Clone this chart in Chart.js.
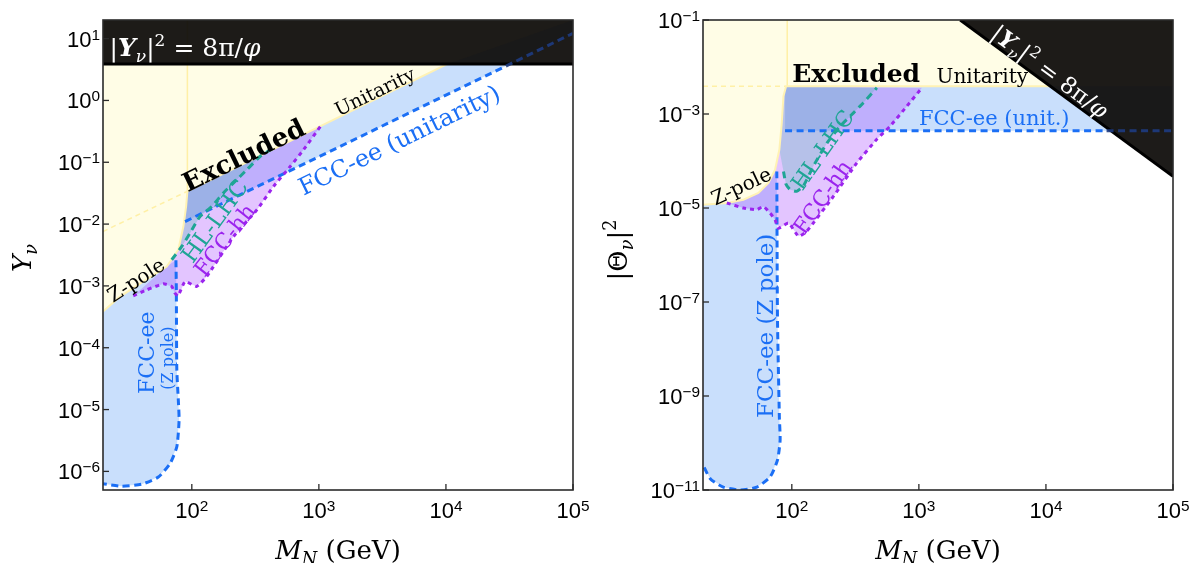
<!DOCTYPE html>
<html>
<head>
<meta charset="utf-8">
<script src="https://cdn.jsdelivr.net/npm/chart.js@4.4.1/dist/chart.umd.min.js"></script>
<style>
  html, body { margin: 0; padding: 0; background: #fff; }
  #wrap { position: relative; width: 1199px; height: 563px; }
  canvas { position: absolute; top: 0; }
</style>
</head>
<body>
<div id="wrap">
  <canvas id="left" width="600" height="563" style="left:0"></canvas>
  <canvas id="right" width="599" height="563" style="left:600px"></canvas>
</div>
<script>
// axis ranges and tick labels (exponents of 10)
const xRange = [20, 1e5];
const yRangeL = [5e-7, 20];
const yRangeR = [1e-11, 0.1];
const xTickExp = [2, 3, 4, 5];
const yTickExpL = [1, 0, -1, -2, -3, -4, -5, -6];
const yTickExpR = [-1, -3, -5, -7, -9, -11];

// ---- left panel: Y_nu vs M_N ----
const zpoleM_L = [20, 27.2, 63.5, 78.3, 85.9, 90.2, 92.3];
const zpoleY_L = [3.85e-4, 6.7e-4, 2.06e-3, 3.85e-3, 9.2e-3, 0.0194, 0.0339];
const unitM_L = [92.3, 10300];          // unitarity bound
const unitY_L = [0.0339, 3.9];
const bandY_L = 3.9;                    // |Y|^2 = 8pi/phi
const zdashM_L = [75, 75.5, 76.2, 78.3, 79.4, 76.2, 67.4, 54.5, 40.3, 28, 20];
const zdashY_L = [2.6e-3, 1e-3, 4.4e-5, 1.43e-5, 6.76e-6, 2.5e-6, 1.34e-6, 8.1e-7, 6.2e-7, 5.75e-7, 6.3e-7];
const udashM_L = [88.5, 29700, 1e5];    // FCC-ee (unitarity)
const udashY_L = [0.011, 3.6, 12.2];
const hhM_L = [34.6, 44.2, 59.7, 69.5, 73.8, 78, 88.5, 109, 131, 213, 326, 440, 597, 760, 1030];
const hhY_L = [6.9e-4, 8.65e-4, 1.08e-3, 9.8e-4, 7.6e-4, 6.9e-4, 1.18e-3, 9.8e-4, 1.42e-3, 6.3e-3, 0.0171, 0.0408, 0.086, 0.161, 0.383];
const hlM_L = [69.5, 83.4, 97, 116, 144, 177, 213, 272, 346, 440];
const hlY_L = [2.65e-3, 4.35e-3, 7.2e-3, 0.0133, 0.0194, 0.0319, 0.0464, 0.0762, 0.125, 0.171];

// ---- right panel: |Theta|^2 vs M_N ----
const zpoleM_R = [20, 30.8, 41.6, 54.6, 65.5, 73.8, 79.8, 83.4, 85.9, 90.2];
const zpoleT_R = [1.17e-5, 1.28e-5, 1.5e-5, 2.09e-5, 3.4e-5, 6.5e-5, 1.75e-4, 6.5e-4, 2.4e-3, 3.9e-3];
const unitM_R = [90.2, 11000];
const unitT_R = [3.9e-3, 3.9e-3];
const blackM_R = [2115, 1e5];
const blackT_R = [0.1, 4.7e-5];
const zdashM_R = [76.2, 77.1, 79.8, 80.9, 77.1, 67.5, 53, 39.2, 28.9, 22.8, 20];
const zdashT_R = [6e-5, 4.9e-8, 3.6e-10, 1.15e-10, 4.3e-11, 1.9e-11, 1.15e-11, 1e-11, 1.15e-11, 1.74e-11, 3.4e-11];
const udashM_R = [88.5, 30000, 1e5];
const udashT_R = [4.4e-4, 4.4e-4, 4.4e-4];
const hhM_R = [30.8, 41.6, 53, 59.7, 67.5, 73.8, 78.4, 94, 113, 131, 213, 325, 467, 594, 805, 1057];
const hhT_R = [1.28e-5, 1.0e-5, 9.2e-6, 1.08e-5, 7.8e-6, 5.6e-6, 3.7e-6, 4.8e-6, 2.5e-6, 3.2e-6, 1.78e-5, 9.1e-5, 2.9e-4, 5.5e-4, 1.47e-3, 3.6e-3];
const hlM_R = [86, 90, 97, 109, 123, 148, 189, 240, 306, 366, 467];
const hlT_R = [6e-5, 3.2e-5, 2.46e-5, 2.26e-5, 2.9e-5, 7.8e-5, 2.4e-4, 5.5e-4, 1.06e-3, 1.74e-3, 3.6e-3];

// colours
const YELLOW = '#FFFDE6', YEDGE = 'rgb(255,242,180)';
const BLUE_FILL = 'rgb(201,223,252)', BLUE = '#1B6FF5';
const PURPLE_FILL = 'rgba(170,80,255,0.33)', PURPLE = '#9B24EE';
const HL_FILL = 'rgba(76,182,183,0.3)', TEAL = '#1FA595';
const BLACK_FILL = 'rgba(12,10,8,0.93)';
const serif = '"DejaVu Serif", serif';
const sans = '"Liberation Sans", Arial, sans-serif';

const P = (ms, vs) => ms.map((m, i) => ({ x: m, y: vs[i] }));
const rev = a => a.slice().reverse();

function area(data, color) {
  return { data, backgroundColor: color, borderColor: 'transparent', borderWidth: 0, fill: 'shape', pointRadius: 0, tension: 0 };
}
function stroke(data, color, width, dash, tension) {
  return { data, borderColor: color, borderWidth: width, borderDash: dash || [], fill: false, pointRadius: 0, tension: tension || 0 };
}

// left panel layers, bottom to top
const zL = P(zpoleM_L, zpoleY_L);
const leftSets = [
  area([...zL, { x: unitM_L[1], y: unitY_L[1] }, { x: 1e5, y: 20 }, { x: 20, y: 20 }], YELLOW),
  area([...zL.filter(p => p.x < 70), ...P(zdashM_L, zdashY_L)], BLUE_FILL),
  area([...P(udashM_L, udashY_L), { x: 1e5, y: 20 }, ...rev(P(unitM_L, unitY_L)), ...rev(zL.filter(p => p.x > 88 && p.x < 92))], BLUE_FILL),
  area([...P(hhM_L, hhY_L), ...rev(P(unitM_L, unitY_L)).slice(1), ...rev(zL.filter(p => p.x > 30))], PURPLE_FILL),
  area([...P(hlM_L, hlY_L), ...rev(zL.filter(p => p.x > 75))], HL_FILL),
  stroke(P([20, 92.3], [7.6e-3, 0.0339]), 'rgba(255,236,150,0.8)', 1.5, [5, 4]),
  stroke(P([92.3, 92.3], [0.0339, 20]), 'rgba(255,236,150,0.8)', 1.5),
  stroke([...zL, { x: unitM_L[1], y: unitY_L[1] }], YEDGE, 2),
  stroke(P(zdashM_L, zdashY_L), BLUE, 3, [7, 4.5], 0.2),
  stroke(P(udashM_L.slice(0, 2), udashY_L.slice(0, 2)), BLUE, 3, [7, 4.5]),
  stroke(P(hhM_L, hhY_L), PURPLE, 3, [4, 4], 0.15),
  stroke(P(hlM_L, hlY_L), TEAL, 3, [7, 5], 0.15),
  area(P([20, 1e5, 1e5, 20], [bandY_L, bandY_L, 20, 20]), BLACK_FILL),
  stroke(P([20, 1e5], [bandY_L, bandY_L]), '#000', 3),
  stroke(P(udashM_L.slice(1), udashY_L.slice(1)), 'rgba(30,60,130,0.9)', 3, [7, 4.5])
];

// right panel layers, bottom to top
const zR = P(zpoleM_R, zpoleT_R);
const uR = P(unitM_R, unitT_R);
const rightSets = [
  area([...zR, uR[1], { x: 1e5, y: 3.9e-3 }, { x: 1e5, y: 0.1 }, { x: 20, y: 0.1 }], YELLOW),
  area([{ x: 20, y: zdashT_R[10] }, ...zR.filter(p => p.x < 75), ...P(zdashM_R, zdashT_R)], BLUE_FILL),
  area([...P(udashM_R, udashT_R), { x: 1e5, y: 3.9e-3 }, { x: 88.5, y: 3.9e-3 }], BLUE_FILL),
  area([...P(hhM_R, hhT_R), ...rev(zR.filter(p => p.x > 35))], PURPLE_FILL),
  area([...P(hlM_R, hlT_R), ...rev(zR.filter(p => p.x > 79))], HL_FILL),
  stroke(P([20, 90.2], [3.9e-3, 3.9e-3]), 'rgba(255,236,150,0.8)', 1.5, [5, 4]),
  stroke(P([92, 92], [3.9e-3, 0.1]), 'rgba(255,236,150,0.8)', 1.5),
  stroke([...zR, uR[1]], YEDGE, 2),
  stroke(P(zdashM_R, zdashT_R), BLUE, 3, [7, 4.5], 0.2),
  stroke(P(udashM_R.slice(0, 2), udashT_R.slice(0, 2)), BLUE, 3, [7, 4.5]),
  stroke(P(hhM_R, hhT_R), PURPLE, 3, [4, 4], 0.15),
  stroke(P(hlM_R, hlT_R), TEAL, 3, [7, 5], 0.15),
  area([...P(blackM_R, blackT_R), { x: 1e5, y: 0.1 }], BLACK_FILL),
  stroke(P(blackM_R, blackT_R), '#000', 3),
  stroke(P(udashM_R.slice(1), udashT_R.slice(1)), 'rgba(30,60,130,0.9)', 3, [7, 4.5])
];

// text runs
const mathBound = [{ t: '|' }, { t: 'Y', i: 1, b: 1 }, { t: 'ν', i: 1, sub: 1 }, { t: '|' }, { t: '2', sup: 1 }, { t: ' = 8π/' }, { t: 'φ', i: 1 }];
const T = s => [{ t: s }];

const decor = {
  left: {
    yExp: yTickExpL,
    yTitle: { runs: [{ t: 'Y', i: 1 }, { t: 'ν', i: 1, sub: 1 }], x: 22, y: 258 },
    labels: [
      { runs: mathBound, m: 88.5, v: 7.2, size: 25, color: '#fff' },
      { runs: T('Excluded'), m: 254, v: 0.133, rot: -26, size: 26, bold: 1 },
      { runs: T('Unitarity'), m: 2750, v: 1.4, rot: -26, size: 19 },
      { runs: T('FCC-ee (unitarity)'), m: 4270, v: 0.233, rot: -26, size: 24, color: BLUE },
      { runs: T('HL-LHC'), m: 150, v: 0.0114, rot: -54, size: 23, color: TEAL },
      { runs: T('FCC-hh'), m: 180, v: 5.6e-3, rot: -52, size: 22, color: PURPLE },
      { runs: T('Z-pole'), m: 36.3, v: 1.26e-3, rot: -33, size: 20 },
      { runs: T('FCC-ee'), m: 44, v: 8.3e-5, rot: -90, size: 22, color: BLUE },
      { runs: T('(Z pole)'), m: 64.5, v: 6.8e-5, rot: -90, size: 16, color: BLUE }
    ]
  },
  right: {
    yExp: yTickExpR,
    yTitle: { runs: [{ t: '|Θ' }, { t: 'ν', i: 1, sub: 1 }, { t: '|' }, { t: '2', sup: 1 }], x: 18, y: 250 },
    labels: [
      { runs: T('Excluded'), m: 321, v: 7.3e-3, size: 25, bold: 1 },
      { runs: T('Unitarity'), m: 3155, v: 6.6e-3, size: 20 },
      { runs: mathBound, m: 1.08e4, v: 8.05e-3, rot: 36.5, size: 23, color: '#fff' },
      { runs: T('FCC-ee (unit.)'), m: 3920, v: 8.4e-4, size: 21, color: BLUE },
      { runs: T('Z-pole'), m: 39.8, v: 2.98e-5, rot: -25, size: 20 },
      { runs: T('HL-LHC'), m: 173, v: 1.74e-4, rot: -55, size: 22, color: TEAL },
      { runs: T('FCC-hh'), m: 173, v: 1.74e-5, rot: -55, size: 22, color: PURPLE },
      { runs: T('FCC-ee (Z pole)'), m: 61.6, v: 3.1e-8, rot: -90, size: 23, color: BLUE }
    ]
  }
};

// draws a run of text pieces (italic, sub/superscripts) centred or aligned at x,y
function drawRich(ctx, runs, x, y, o) {
  const size = o.size, fam = o.family || serif;
  ctx.save();
  ctx.translate(x, y);
  ctx.rotate((o.rot || 0) * Math.PI / 180);
  ctx.fillStyle = o.color || '#000';
  ctx.textBaseline = 'alphabetic';
  ctx.textAlign = 'left';
  const raise = o.supRaise != null ? o.supRaise : 0.42;
  const ratio = o.supSize || 0.68;
  const parts = runs.map(r => {
    const s = (r.sup || r.sub) ? size * ratio : size;
    const font = (r.i ? 'italic ' : '') + ((r.b || o.bold) ? 'bold ' : '') + s + 'px ' + fam;
    ctx.font = font;
    return { t: r.t, font, w: ctx.measureText(r.t).width, dy: r.sup ? -size * raise : r.sub ? size * 0.22 : 0 };
  });
  const total = parts.reduce((a, p) => a + p.w, 0);
  let cx = o.align === 'right' ? -total : o.align === 'left' ? 0 : -total / 2;
  const base = o.base != null ? o.base : size * 0.36;
  parts.forEach(p => { ctx.font = p.font; ctx.fillText(p.t, cx, base + p.dy); cx += p.w; });
  ctx.restore();
}

const expRuns = e => [{ t: '10' }, { t: (e < 0 ? '−' : '') + Math.abs(e), sup: 1 }];
const tickFont = { size: 22, family: sans, base: 0, supRaise: 0.32, supSize: 0.7 };

const decorPlugin = {
  id: 'decor',
  afterDraw(chart) {
    const d = decor[chart.canvas.id];
    const { ctx, chartArea: a, scales: { x, y } } = chart;
    d.labels.forEach(l => drawRich(ctx, l.runs, x.getPixelForValue(l.m), y.getPixelForValue(l.v), l));

    ctx.save();
    ctx.strokeStyle = '#2b2b2b';
    ctx.lineWidth = 1.6;
    ctx.strokeRect(a.left, a.top, a.right - a.left, a.bottom - a.top);
    ctx.lineWidth = 1.3;
    xTickExp.forEach(e => {
      const px = x.getPixelForValue(Math.pow(10, e));
      ctx.beginPath(); ctx.moveTo(px, a.bottom); ctx.lineTo(px, a.bottom - 6); ctx.stroke();
      drawRich(ctx, expRuns(e), px, a.bottom + 28, tickFont);
    });
    d.yExp.forEach(e => {
      const py = y.getPixelForValue(Math.pow(10, e));
      ctx.beginPath(); ctx.moveTo(a.left, py); ctx.lineTo(a.left + 6, py); ctx.stroke();
      drawRich(ctx, expRuns(e), a.left - 3, py + 8, Object.assign({ align: 'right' }, tickFont));
    });
    ctx.restore();

    drawRich(ctx, [{ t: 'M', i: 1 }, { t: 'N', i: 1, sub: 1 }, { t: ' (GeV)' }], (a.left + a.right) / 2, 559, { size: 26, base: 0 });
    drawRich(ctx, d.yTitle.runs, d.yTitle.x, d.yTitle.y, { size: 26, rot: -90 });
  }
};

function makeChart(id, sets, yRange) {
  sets.forEach((s, i) => { s.order = 100 - i; });
  return new Chart(document.getElementById(id), {
    type: 'line',
    data: { datasets: sets },
    options: {
      responsive: false,
      animation: false,
      devicePixelRatio: 1,
      events: [],
      layout: { padding: { left: 103, top: 20, right: id === 'left' ? 27 : 26, bottom: 73 } },
      plugins: { legend: { display: false }, tooltip: { enabled: false } },
      scales: {
        x: { type: 'logarithmic', min: xRange[0], max: xRange[1], display: false },
        y: { type: 'logarithmic', min: yRange[0], max: yRange[1], display: false }
      }
    },
    plugins: [decorPlugin]
  });
}

makeChart('left', leftSets, yRangeL);
makeChart('right', rightSets, yRangeR);
</script>
</body>
</html>
